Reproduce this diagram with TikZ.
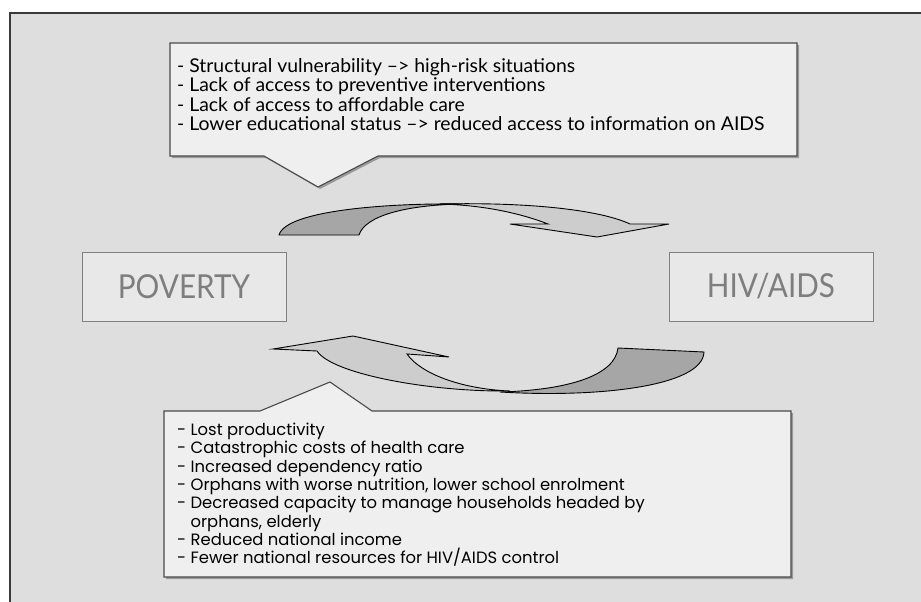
\documentclass[tikz,border=0pt]{standalone}
\usepackage{fontspec}
\newfontfamily\topfont[FakeStretch=1.02]{Lato}
\newfontfamily\botfont{Poppins}
\newfontfamily\labfont[FakeStretch=0.9]{Lato}
\definecolor{panel}{HTML}{DEDEDE}
\definecolor{boxfill}{HTML}{EFEFEF}
\definecolor{labfill}{HTML}{E8E8E8}
\definecolor{labtext}{HTML}{7E7E7E}
\definecolor{darkarrow}{HTML}{A6A6A6}
\definecolor{lightarrow}{HTML}{CDCDCD}
\definecolor{frameline}{HTML}{3A3A3A}
\definecolor{boxline}{HTML}{4A4A4A}
\definecolor{shadowc}{HTML}{9A9A9A}
\tikzset{
  calloutbox/.style={fill=boxfill, draw=boxline, line width=1.1pt, line join=miter},
  calloutshadow/.style={fill=shadowc, draw=none},
  labelbox/.style={fill=labfill, draw=boxline!70, line width=0.9pt, minimum width=204pt, minimum height=69pt, inner sep=0pt, text=labtext, font=\labfont\fontsize{33}{36}\selectfont},
  arrowdark/.style={fill=darkarrow, draw=black, line width=0.9pt, line join=round},
  arrowlight/.style={fill=lightarrow, draw=black, line width=0.9pt, line join=miter},
  toptextstyle/.style={anchor=north west, align=left, inner sep=0pt, font=\topfont\fontsize{19}{19.5}\selectfont},
  bottextstyle/.style={anchor=north west, align=left, inner sep=0pt, font=\botfont\fontsize{16.4}{18.3}\selectfont}
}
\begin{document}
\begin{tikzpicture}[x=1pt,y=-1pt]
\useasboundingbox (0,0) rectangle (921,602);
\fill[white] (0,0) rectangle (921,602);
% panel
\fill[panel] (10,13) rectangle (921,602);
\draw[frameline, line width=2.4pt] (10,602) -- (10,13) -- (921,13);

% top callout
\fill[calloutshadow] (172,45) -- (799,45) -- (799,158) -- (380,158) -- (320,189) -- (266,158) -- (172,158) -- cycle;
\draw[calloutbox] (170,43) -- (797,43) -- (797,156) -- (378,156) -- (318,187) -- (264,156) -- (170,156) -- cycle;
\node[toptextstyle] (toptext) at (177,58) {%
- Structural vulnerability \textendash> high-risk situations\\
- Lack of access to preventive interventions\\
- Lack of access to affordable care\\
- Lower educational status \textendash> reduced access to information on AIDS};

% bottom callout
\fill[calloutshadow] (166,413) -- (262,413) -- (332,384) -- (374,413) -- (793,413) -- (793,579) -- (166,579) -- cycle;
\draw[calloutbox] (164,411) -- (260,411) -- (330,382) -- (372,411) -- (791,411) -- (791,577) -- (164,577) -- cycle;
\node[bottextstyle] (bottext) at (177,423) {%
- Lost productivity\\
- Catastrophic costs of health care\\
- Increased dependency ratio\\
- Orphans with worse nutrition, lower school enrolment\\
- Decreased capacity to manage households headed by\\
\hphantom{- }orphans, elderly\\
- Reduced national income\\
- Fewer national resources for HIV/AIDS control};

% label boxes
\node[labelbox] (poverty) at (184,286.5) {POVERTY};
\node[labelbox] (hiv) at (771,286.5) {HIV/AIDS};

% top curved arrow
\draw[arrowlight] (440,204) .. controls (530,202) and (600,210) .. (630,224)
  -- (669,224) -- (597,237) -- (510,224) -- (548,224)
  .. controls (520,213) and (482,205) .. (440,204) -- cycle;
\draw[arrowdark] (279,235) -- (359,235)
  .. controls (365,216) and (405,205) .. (462,204)
  .. controls (390,203) and (286,210) .. (279,235) -- cycle;

% bottom curved arrow
\draw[arrowlight] (273,349) -- (353,336) -- (449,357) -- (407,354)
  .. controls (420,373) and (460,389) .. (510,391)
  .. controls (430,392) and (332,374) .. (317,351) -- cycle;
\draw[arrowdark] (618,348) -- (704,352)
  .. controls (703,386) and (600,398) .. (500,392)
  .. controls (570,390) and (615,375) .. (618,348) -- cycle;
\end{tikzpicture}
\end{document}
